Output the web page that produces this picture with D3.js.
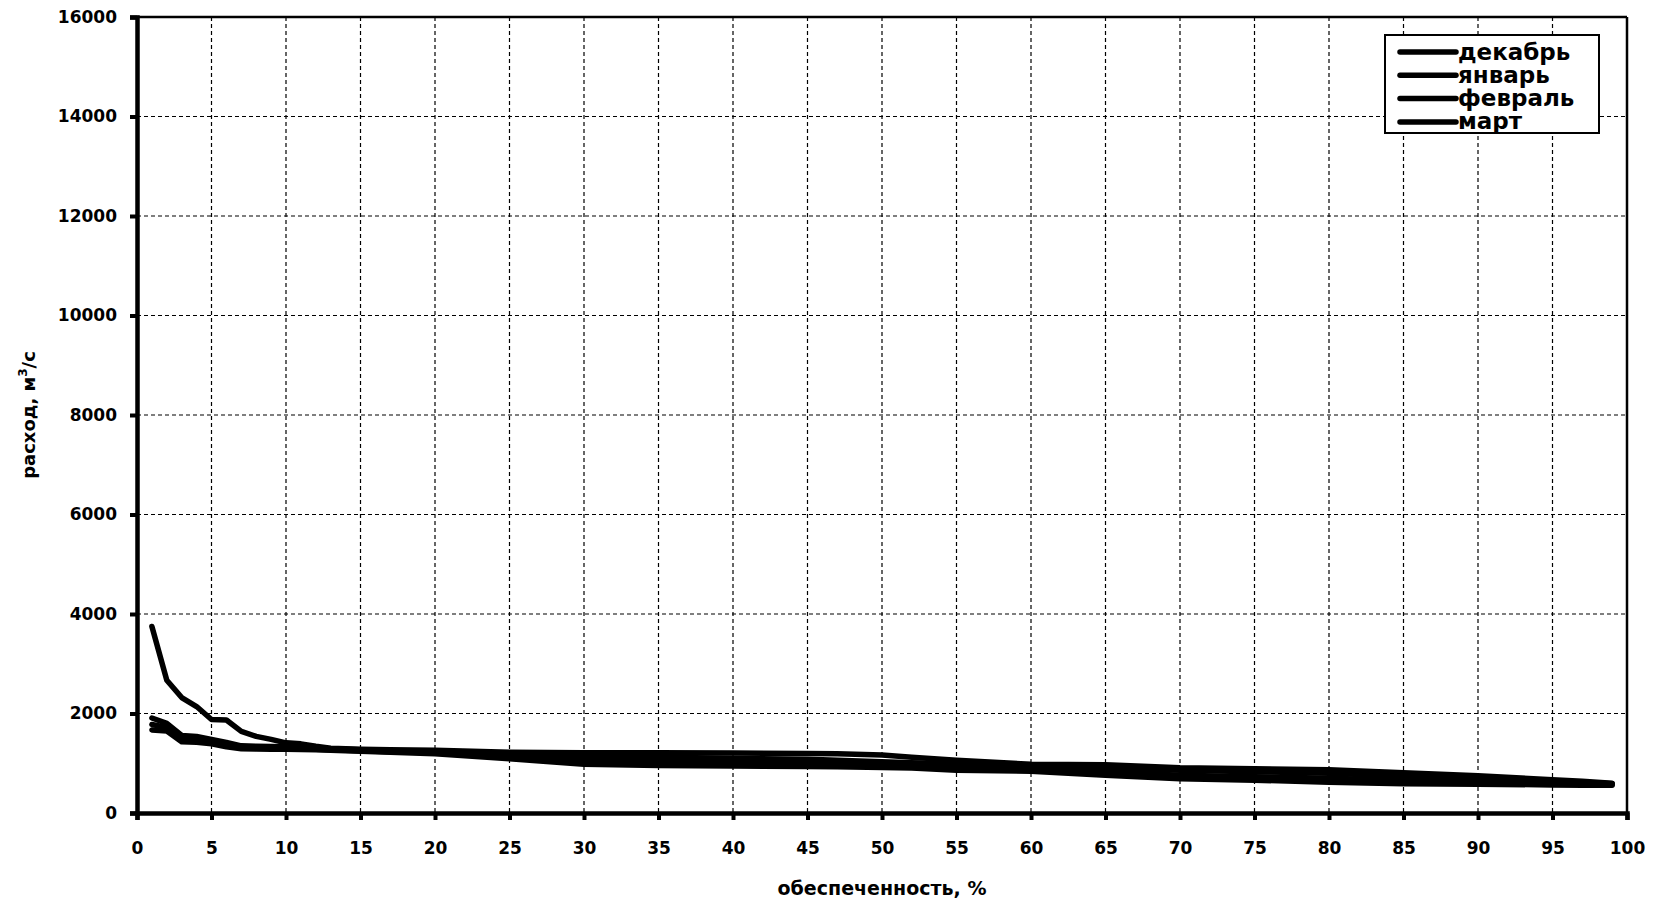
<!DOCTYPE html>
<html>
<head>
<meta charset="utf-8">
<script src="https://cdn.jsdelivr.net/npm/d3@7"></script>
<style>
  body { margin: 0; background: #fff; }
  text { font-family: "DejaVu Sans", "Liberation Sans", Arial, sans-serif; font-weight: bold; fill: #000; }
</style>
</head>
<body>
<div id="viz"></div>
<script>
// обеспеченность, % (общая ось для всех месяцев)
const xVals = [1,2,3,4,5,6,7,8,9,10,11,12,13,14,15,17,20,25,30,35,40,45,47,50,52,55,60,65,70,75,80,85,90,95,97,99];

// расход, м3/с
const dec = [3750,2670,2320,2140,1880,1870,1640,1540,1480,1410,1390,1340,1300,1290,1280,1270,1260,1220,1210,1210,1205,1195,1190,1165,1120,1060,980,970,910,890,870,810,750,670,640,600];
const jan = [1910,1800,1560,1540,1480,1420,1350,1340,1335,1330,1320,1300,1290,1280,1270,1250,1230,1180,1140,1120,1100,1080,1060,1030,1010,990,940,900,860,830,800,740,700,640,620,590];
const feb = [1780,1720,1500,1470,1440,1380,1310,1300,1300,1300,1290,1280,1270,1260,1250,1230,1210,1140,1060,1030,1010,1000,1000,970,960,930,890,830,760,730,700,660,640,600,590,580];
const mar = [1670,1650,1430,1420,1390,1330,1290,1285,1280,1280,1275,1270,1260,1250,1240,1220,1190,1090,980,955,945,935,930,915,905,860,840,760,690,660,620,590,580,565,560,560];

const seriesNames = ["декабрь", "январь", "февраль", "март"];
const seriesVals = [dec, jan, feb, mar];

const xTicks = d3.range(0, 101, 5);
const yTicks = [0,2000,4000,6000,8000,10000,12000,14000,16000];

const width = 1654, height = 906;
const margin = {left: 137, right: 27, top: 17, bottom: 93};

const svg = d3.select("#viz").append("svg")
    .attr("width", width)
    .attr("height", height);

const x = d3.scaleLinear().domain([0, 100]).range([margin.left, width - margin.right]);
const y = d3.scaleLinear().domain([0, 16000]).range([height - margin.bottom, margin.top]);

// сетка
svg.append("g")
    .selectAll("line")
    .data(xTicks.slice(1, -1))
    .join("line")
    .attr("x1", d => x(d)).attr("x2", d => x(d))
    .attr("y1", y(16000)).attr("y2", y(0))
    .attr("stroke", "#000").attr("stroke-width", 1.2)
    .attr("stroke-dasharray", "4,3");

svg.append("g")
    .selectAll("line")
    .data(yTicks.slice(1, -1))
    .join("line")
    .attr("x1", x(0)).attr("x2", x(100))
    .attr("y1", d => y(d)).attr("y2", d => y(d))
    .attr("stroke", "#000").attr("stroke-width", 1.2)
    .attr("stroke-dasharray", "4,3");

// рамка сверху и справа
svg.append("line")
    .attr("x1", x(0)).attr("x2", x(100))
    .attr("y1", y(16000)).attr("y2", y(16000))
    .attr("stroke", "#000").attr("stroke-width", 2.5);
svg.append("line")
    .attr("x1", x(100)).attr("x2", x(100))
    .attr("y1", y(16000)).attr("y2", y(0))
    .attr("stroke", "#000").attr("stroke-width", 2.5);

// оси
const xAxis = svg.append("g")
    .attr("transform", `translate(0,${y(0)})`)
    .call(d3.axisBottom(x).tickValues(xTicks).tickSize(7).tickPadding(22));
const yAxis = svg.append("g")
    .attr("transform", `translate(${x(0)},0)`)
    .call(d3.axisLeft(y).tickValues(yTicks).tickSize(7).tickPadding(13).tickFormat(d3.format("d")));

[xAxis, yAxis].forEach(g => {
    g.select(".domain").attr("stroke", "#000").attr("stroke-width", 4.5);
    g.selectAll(".tick line").attr("stroke", "#000").attr("stroke-width", 4);
    g.selectAll(".tick text").attr("font-size", "17px").attr("fill", "#000")
        .attr("font-family", "DejaVu Sans, Liberation Sans, Arial, sans-serif").attr("font-weight", "bold");
});

// линии
const line = d3.line()
    .x((d, i) => x(xVals[i]))
    .y(d => y(d));

svg.append("g")
    .selectAll("path")
    .data(seriesVals)
    .join("path")
    .attr("d", d => line(d))
    .attr("fill", "none")
    .attr("stroke", "#000")
    .attr("stroke-width", 5.5)
    .attr("stroke-linejoin", "round")
    .attr("stroke-linecap", "round");

// подписи осей
svg.append("text")
    .attr("x", (x(0) + x(100)) / 2)
    .attr("y", 895)
    .attr("text-anchor", "middle")
    .attr("font-size", "19px")
    .text("обеспеченность, %");

const yl = svg.append("text")
    .attr("transform", `translate(35,${(y(0) + y(16000)) / 2}) rotate(-90)`)
    .attr("text-anchor", "middle")
    .attr("font-size", "18px");
yl.append("tspan").text("расход, м");
yl.append("tspan").attr("dy", -8).attr("font-size", "12px").text("3");
yl.append("tspan").attr("dy", 8).text("/с");

// легенда
const lg = svg.append("g").attr("transform", "translate(1385,35)");
lg.append("rect")
    .attr("width", 214).attr("height", 98)
    .attr("fill", "#fff").attr("stroke", "#000").attr("stroke-width", 2);
const item = lg.selectAll("g.item")
    .data(seriesNames)
    .join("g")
    .attr("class", "item")
    .attr("transform", (d, i) => `translate(0,${17 + i * 23.3})`);
item.append("line")
    .attr("x1", 15).attr("x2", 71)
    .attr("stroke", "#000").attr("stroke-width", 5.5)
    .attr("stroke-linecap", "round");
item.append("text")
    .attr("x", 73).attr("dy", "0.33em")
    .attr("font-size", "23px")
    .text(d => d);
</script>
</body>
</html>
